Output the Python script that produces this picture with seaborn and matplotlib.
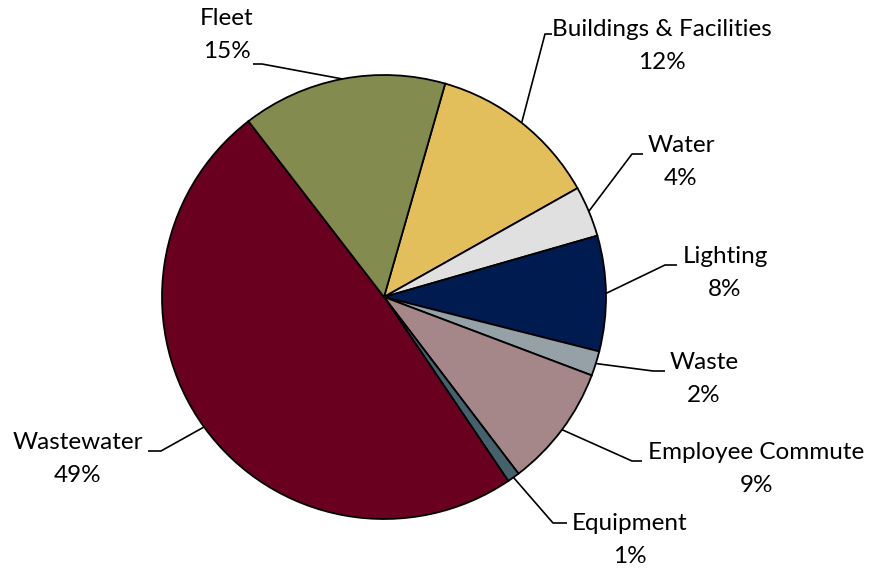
import numpy as np
import seaborn as sns
import matplotlib.pyplot as plt

# slice data, clockwise from the Fleet/Buildings border
categories = ['Buildings & Facilities', 'Water', 'Lighting', 'Waste',
              'Employee Commute', 'Equipment', 'Wastewater', 'Fleet']
shares = [12.4, 3.7, 8.4, 1.8, 8.9, 0.9, 49.0, 14.9]
colors = ['#E2BF5A', '#E0E0E0', '#001B50', '#95A1A6',
          '#A5878A', '#44616C', '#690020', '#838B4E']

sns.set_theme(style='white')
plt.rcParams['font.family'] = ['Lato', 'DejaVu Sans']

W, H = 871, 569
CX, CY, R = 384, 297, 222


def px(x, y):
    return ((x - CX) / R, (CY - y) / R)


# label layout in pixels: text centre, elbow, end of the short horizontal stub
label_pos = {
    'Buildings & Facilities': ((662, 46), (545, 34), (552, 34)),
    'Water': ((681, 162), (632, 154), (643, 154)),
    'Lighting': ((725, 273), (665, 265), (677, 265)),
    'Waste': ((704, 379), (653, 371), (665, 371)),
    'Employee Commute': ((756, 469), (632, 461), (642, 461)),
    'Equipment': ((630, 540), (553, 523), (567, 523)),
    'Wastewater': ((78, 459), (161, 451), (148, 451)),
    'Fleet': ((227, 35), (262, 64), (253, 64)),
}

fig = plt.figure(figsize=(W / 100, H / 100), dpi=100)
ax = fig.add_axes([0, 0, 1, 1])

wedges, _ = ax.pie(shares, colors=colors, startangle=90 - 16, counterclock=False,
                   radius=1, center=(0, 0),
                   wedgeprops=dict(edgecolor='black', linewidth=1.3))

for w, name, val in zip(wedges, categories, shares):
    mid = np.deg2rad((w.theta1 + w.theta2) / 2)
    start = (np.cos(mid), np.sin(mid))
    (tx, ty), elbow, stub = label_pos[name]
    e = px(*elbow)
    s = px(*stub)
    ax.plot([start[0], e[0], s[0]], [start[1], e[1], s[1]], color='black', lw=1.2,
            solid_capstyle='butt', zorder=1)
    t = px(tx, ty)
    ax.text(t[0], t[1], f'{name}\n{round(val):d}%', ha='center', va='center',
            fontsize=17.5, linespacing=1.68, color='black')

ax.set_xlim(-CX / R, (W - CX) / R)
ax.set_ylim((CY - H) / R, CY / R)
ax.set_aspect('auto')
ax.axis('off')

fig.savefig('out.png', dpi=100, facecolor='white')
